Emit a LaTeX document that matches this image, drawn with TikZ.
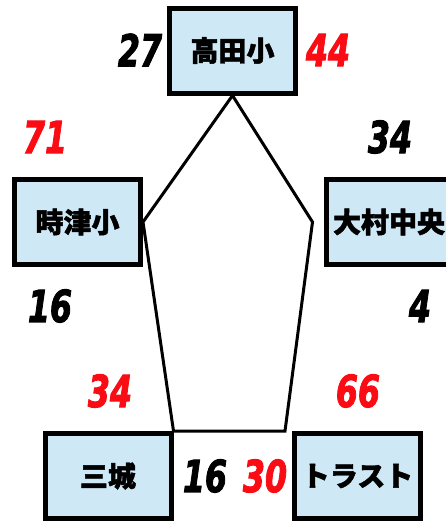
\documentclass[tikz,border=0pt]{standalone}
\usepackage{fontspec}
\usepackage{graphicx}
\newfontfamily\jpfont{Noto Sans CJK JP}[BoldFeatures={FakeBold=1.6}]
\newfontfamily\scorefont{DejaVu Sans}[BoldItalicFeatures={FakeBold=2.5}]
\usetikzlibrary{positioning,calc}
\definecolor{boxblue}{RGB}{206,232,246}
\definecolor{scorered}{RGB}{250,12,20}
\newcommand{\score}[1]{\scalebox{0.72}[1]{#1}}
\begin{document}
\begin{tikzpicture}[x=1pt,y=-1pt,
    school_box/.style ={rectangle, draw=black, line width=5pt, fill=boxblue,
      minimum width=126pt, minimum height=85pt, inner sep=0pt,
      font={\jpfont\bfseries\fontsize{28pt}{30pt}\selectfont}},
    score_black/.style ={inner sep=0pt, text=black,
      font={\scorefont\bfseries\itshape\fontsize{44pt}{44pt}\selectfont}},
    score_red/.style ={score_black, text=scorered},
    paths/.style={draw, line width=3pt, line join=miter}]
    \useasboundingbox (0,0) rectangle (446,522);
    \clip (0,0) rectangle (446,522);
    % schools
    \node[school_box] (takada) at (232.5,50.5) {高田小};
    \node[school_box] (togitsu) at (77.5,222) {時津小};
    \node[school_box] (omura) at (389,222) {大村中央};
    \node[school_box] (mishiro) at (108,476) {三城};
    \node[school_box] (trust) at (357.5,476) {トラスト};
    % corners of the pentagon
    \coordinate (c_omura) at ($(omura.west)+(-11,0)$);
    \coordinate (c_trust) at ($(trust.north west)+(-7,0)$);
    % pentagon
    \path[paths] (takada.south) -- (togitsu.east) -- (mishiro.north east)
      -- (c_trust) -- (c_omura) -- cycle;
    % scores
    \node[score_black] (s_takada_l) at (140,50) {\score{27}};
    \node[score_red] (s_takada_r) at (328,50) {\score{44}};
    \node[score_red] (s_togitsu_t) at (45,137) {\score{71}};
    \node[score_black] (s_omura_t) at (390,137) {\score{34}};
    \node[score_black] (s_togitsu_b) at (50,306) {\score{16}};
    \node[score_black] (s_omura_b) at (420,306) {\score{4}};
    \node[score_red] (s_mishiro_t) at (110,391) {\score{34}};
    \node[score_red] (s_trust_t) at (358,391) {\score{66}};
    \node[score_black] (s_mishiro_r) at (205,476) {\score{16}};
    \node[score_red] (s_trust_l) at (265,476) {\score{30}};
  \end{tikzpicture}
\end{document}
